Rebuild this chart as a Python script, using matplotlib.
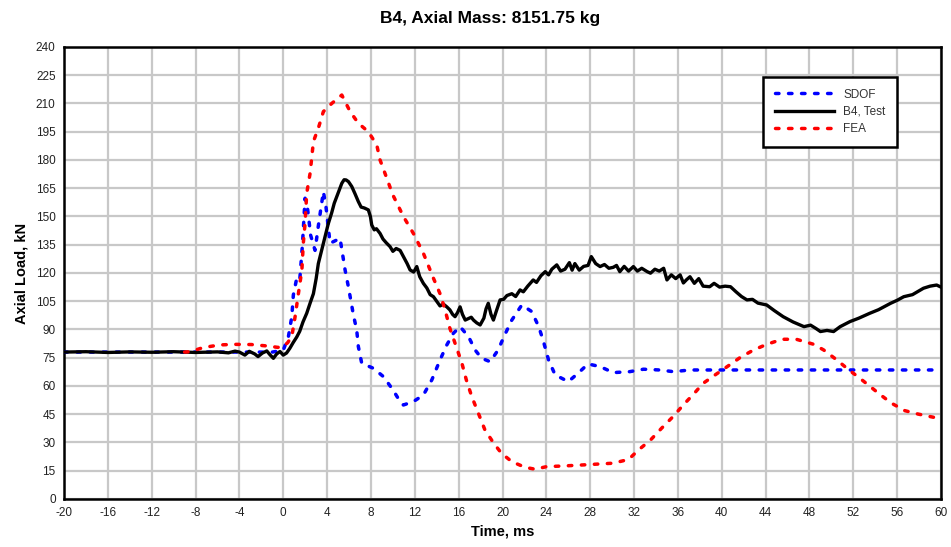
import matplotlib
matplotlib.use('Agg')
import matplotlib.pyplot as plt
import numpy as np

plt.rcParams['font.family'] = ['Liberation Sans', 'DejaVu Sans']
plt.rcParams['axes.unicode_minus'] = False

# SDOF model
sdof_t = [-20, -1, 0, 0.47, 0.78, 0.92, 1.23, 1.5, 1.75, 1.99, 2.2, 2.5, 2.9, 3.2, 3.66, 3.9,
          4.27, 4.7, 5.18, 5.64, 5.94, 6.4, 6.7, 6.85, 7.16, 8.22, 9.13, 10, 10.66, 10.96,
          11.87, 12.78, 13.55, 14.3, 14.92, 15.52, 16.13, 16.9, 17.5, 18.1, 18.87, 19.6,
          20.2, 20.85, 21.76, 22.67, 23.3, 23.7, 24.2, 24.8, 26, 26.9, 27.8, 28.9, 30.1,
          31.6, 32.86, 34.3, 35.6, 37.1, 40, 60]
sdof_v = [78, 78, 79, 86.2, 96.8, 108.3, 117.2, 116, 135, 159.7, 155, 140, 132, 145, 163.2, 155,
          135.8, 137, 138.4, 121.6, 112.7, 97.7, 89.7, 80.9, 72, 69.4, 65, 58, 51.7, 49.9,
          51.7, 55.2, 63.2, 73.8, 81.8, 88, 91.5, 86.2, 79.1, 74.7, 72.9, 79.1,
          87.1, 95, 103, 99.5, 91.5, 84.4, 73.8, 65.9, 62.3, 66.8, 71.7, 70.3, 67.1,
          67.6, 68.9, 68.5, 67.6, 68.5, 68.5, 68.5]

# B4 test record
test_t = [-20, -18, -16, -14, -12, -10, -8, -6, -5, -4.4, -4, -3.5, -3.1, -2.6, -2.3, -1.9,
          -1.5, -1.2, -0.9, -0.6, -0.3, 0, 0.3, 0.6, 0.9, 1.23, 1.5, 1.8, 2.14, 2.45, 2.75,
          3.0, 3.2, 3.5, 3.81, 4.1, 4.42, 4.65, 4.88, 5.1, 5.34, 5.55, 5.73, 5.95, 6.25, 6.55,
          6.85, 7.1, 7.4, 7.76, 7.95, 8.07, 8.3, 8.5, 8.83, 9.1, 9.4, 9.74, 10.0, 10.3, 10.66,
          10.97, 11.3, 11.57, 11.9, 12.18, 12.45, 12.78, 13.1, 13.4, 13.7, 14.0, 14.3, 14.6,
          14.92, 15.2, 15.45, 15.67, 15.9, 16.13, 16.35, 16.6, 16.9, 17.15, 17.35, 17.65,
          17.96, 18.3, 18.5, 18.7, 18.95, 19.17, 19.45, 19.78, 20.1, 20.4, 20.85, 21.2, 21.6,
          21.9, 22.3, 22.8, 23.1, 23.5, 23.9, 24.2, 24.5, 24.95, 25.3, 25.7, 26.1, 26.35,
          26.6, 27.0, 27.4, 27.8, 28.1, 28.5, 28.9, 29.3, 29.7, 30.1, 30.4, 30.7, 31.1, 31.5,
          31.94, 32.3, 32.7, 33.2, 33.5, 33.9, 34.3, 34.7, 35.0, 35.4, 35.8, 36.2, 36.5, 36.8,
          37.1, 37.5, 37.9, 38.3, 38.9, 39.3, 39.8, 40.3, 40.8, 41.3, 41.8, 42.3, 42.8, 43.3,
          44.1, 44.8, 45.6, 46.5, 47.5, 48.1, 48.6, 49, 49.6, 50.2, 50.8, 51.7, 52.5, 53.5,
          54.3, 55.4, 56.0, 56.6, 57.4, 58.4, 59.0, 59.6, 60]
test_v = [78, 78.2, 77.8, 78.1, 77.9, 78.2, 77.8, 78.1, 77.6, 78.5, 78, 76.4, 78.4, 77, 75.6, 77.5,
          78.6, 76.5, 74.7, 77, 78.3, 76.4, 77.5, 80, 83, 86, 89, 94, 98.6, 104, 109,
          117, 125, 132, 139, 146, 152, 157, 160.5, 164, 167.6, 169.5, 169.4, 168.5, 165.9, 162,
          157.9, 155, 154.5, 153.5, 150, 145.5, 142.9, 143.5, 141, 138, 136, 134, 131.5, 133, 132,
          128.6, 125, 121.6, 120.5, 123.4, 118, 114.5, 112, 108.5, 107.4, 105, 102.5, 103.5,
          102, 100.4, 98, 96.8, 99, 102, 98, 95, 95.8, 96.5, 95, 93.5,
          92.4, 96, 101, 103.9, 98, 95, 100, 105.7, 106, 108, 109, 107.5, 111,
          110, 113, 116.3, 115, 118.5, 120.7, 119, 122, 124.3, 121, 122, 125.5, 121.5,
          125, 121.5, 123.5, 124, 128.7, 125, 123.4, 124.5, 122.5, 123, 124, 120.7, 123.5, 121,
          123.4, 121, 122.5, 120.7, 119.9, 122, 121, 122.5, 116.3, 119, 117, 119, 114.7, 116.5,
          118, 114.5, 117, 113, 112.7, 114.5, 112.5, 113, 112.7, 110, 107.5, 105.7, 106, 104,
          103, 100, 96.8, 94, 91.5, 92.3, 90.5, 88.9, 89.5, 88.9, 91.5, 94.2, 96, 98.6,
          100.5, 103.9, 105.5, 107.4, 108.5, 111.9, 113, 113.6, 112.5]

# FEA model
fea_t = [-9, -8.5, -7.3, -5.8, -4.4, -2.9, -1.4, -0.5, 0.0, 0.4, 0.78, 1.08, 1.38, 1.7, 1.83,
         1.99, 2.14, 2.45, 2.75, 3.2, 3.66, 4.42, 5.34, 6.1, 6.85, 7.76, 8.53, 8.83, 9.4, 10,
         10.96, 11.87, 12.78, 13.7, 14.3, 14.76, 15.2, 15.67, 16.3, 16.7, 17.2, 17.8, 18.4,
         19.2, 19.9, 20.85, 22.06, 22.97, 24.04, 25.5, 27.1, 28.6, 30.1, 31.5, 32.4, 33.5,
         34.5, 35.6, 36.5, 37.4, 38.3, 39.4, 40.5, 41.7, 42.9, 44.1, 45.5, 46.8, 48.4, 49.3,
         50.5, 51.6, 52.6, 54.5, 55.5, 56.7, 57.9, 59.3, 60]
fea_v = [78, 78.2, 80.4, 81.8, 82.1, 82, 81.2, 80.5, 80.9, 83, 86.2, 96.8, 109, 121.6, 135.8,
         146.4, 162.3, 173, 189.8, 196.9, 205.7, 210, 214.5, 205.7, 199.5, 195, 188, 180, 171, 161.4,
         150, 141, 130.5, 117.2, 109, 100.4, 90.6, 82.7, 72, 63.2, 54.3, 45.5, 36.6,
         29.6, 24.3, 19.8, 16.8, 15.8, 17.2, 17.5, 18, 18.5, 19, 21, 26, 31.3,
         37.5, 44, 50, 55.5, 61.4, 65.9, 70.3, 75.2, 79.1, 82.1, 84.8, 84.8, 82.1, 79.1,
         73.8, 68.5, 64.1, 55.2, 50.8, 46.9, 45.1, 43.4, 43]

x_ticks = np.arange(-20, 61, 4)
y_ticks = np.arange(0, 241, 15)


def main():
    fig = plt.figure(figsize=(9.51, 5.47), dpi=100)
    ax = fig.add_axes([0.0673, 0.0878, 0.9222, 0.8263])

    dash = (0, (1.0, 2.75))
    ax.plot(sdof_t, sdof_v, color='#0000ff', lw=2.5, linestyle=dash, dash_capstyle='round',
            label='SDOF', zorder=3)
    ax.plot(test_t, test_v, color='black', lw=2.4, label='B4, Test', zorder=4)
    ax.plot(fea_t, fea_v, color='#ff0000', lw=2.5, linestyle=dash, dash_capstyle='round',
            label='FEA', zorder=5)

    ax.set_xlim(-20, 60)
    ax.set_ylim(0, 240)
    ax.set_xticks(x_ticks)
    ax.set_yticks(y_ticks)
    ax.tick_params(length=0, labelsize=8.5, colors='#222222', pad=6)
    ax.grid(True, color='#c8c8c8', lw=1.6)
    ax.set_axisbelow(True)
    for s in ax.spines.values():
        s.set_linewidth(1.8)
        s.set_color('black')

    ax.set_xlabel('Time, ms', fontsize=10.5, fontweight='bold', labelpad=4)
    ax.set_ylabel('Axial Load, kN', fontsize=10.5, fontweight='bold', labelpad=5)
    fig.suptitle('B4, Axial Mass: 8151.75 kg', fontsize=12.5, fontweight='bold', x=0.515, y=0.98)

    leg = ax.legend(loc='upper right', bbox_to_anchor=(0.95, 0.934), borderaxespad=0,
                    fontsize=8.5, handlelength=5.0, fancybox=False, shadow=False,
                    framealpha=1, borderpad=1.0, labelspacing=0.45, handletextpad=0.8)
    leg.get_frame().set_edgecolor('black')
    leg.get_frame().set_linewidth(1.8)
    for text in leg.get_texts():
        text.set_color('#333333')

    fig.savefig('out.png', dpi=100)


if __name__ == '__main__':
    main()
